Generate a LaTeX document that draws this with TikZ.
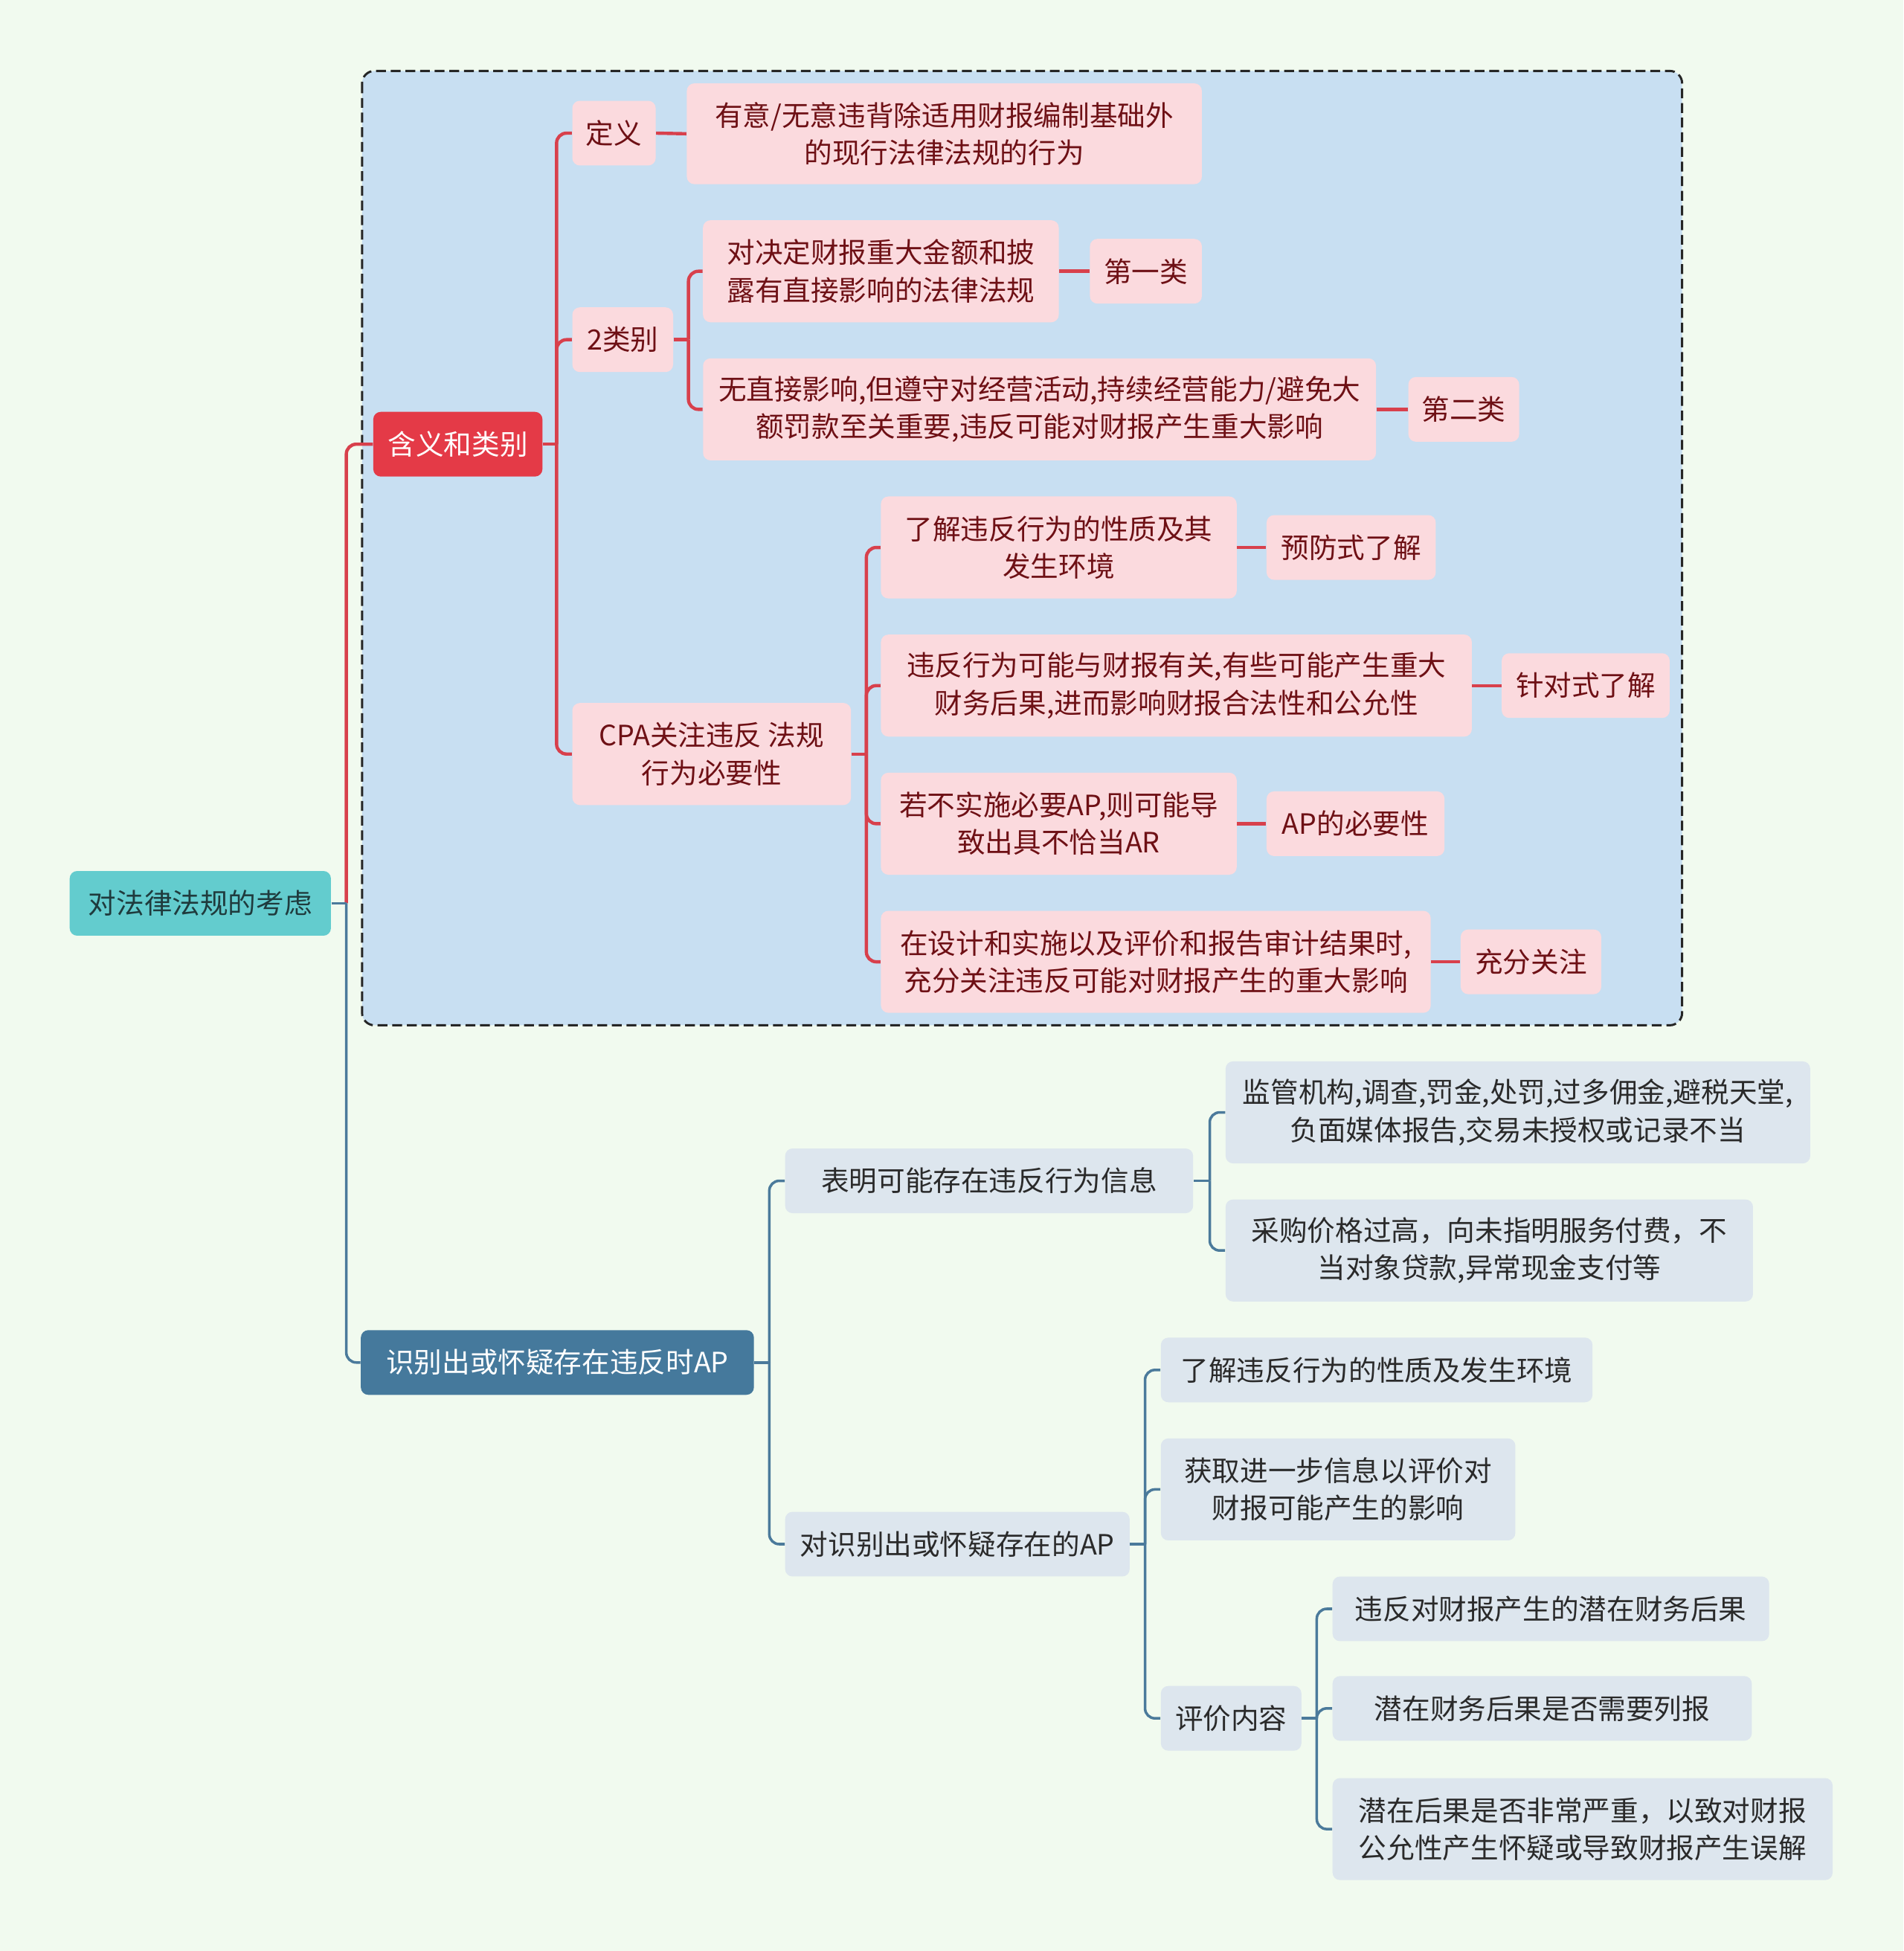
\documentclass[tikz,border=0pt]{standalone}
\usepackage{fontspec}
\setmainfont{Noto Sans CJK SC}
\usetikzlibrary{calc}
\definecolor{bgc}{HTML}{F1FAEF}
\definecolor{boxc}{HTML}{C8DFF2}
\definecolor{pinkc}{HTML}{FBDADE}
\definecolor{pinkt}{HTML}{6E1015}
\definecolor{redm}{HTML}{E43A47}
\definecolor{redl}{HTML}{D8404C}
\definecolor{tealc}{HTML}{63CCCE}
\definecolor{roott}{HTML}{1F3B3D}
\definecolor{bluem}{HTML}{45799C}
\definecolor{bluel}{HTML}{4B7A9B}
\definecolor{grayc}{HTML}{DDE6EE}
\definecolor{grayt}{HTML}{2A2A2A}
\tikzset{
  base/.style={rectangle, rounded corners=0.12cm, inner sep=0pt, align=center,
    font=\fontsize{12.8}{17.1}\selectfont},
  pk/.style={base, fill=pinkc, text=pinkt},
  redmain/.style={base, fill=redm, text=white},
  rootn/.style={base, fill=tealc, text=roott},
  bluemain/.style={base, fill=bluem, text=white},
  gr/.style={base, fill=grayc, text=grayt},
  rl/.style={draw=redl, line width=1.5pt, rounded corners=0.16cm},
  bl/.style={draw=bluel, line width=1.2pt, rounded corners=0.16cm},
}
\begin{document}
\begin{tikzpicture}[x=0.02cm,y=-0.02cm]
\fill[bgc] (0,0) rectangle (1530,1568);
\useasboundingbox (0,0) rectangle (1530,1568);
\draw[draw=black!85, line width=1pt, fill=boxc, rounded corners=0.2cm, dash pattern=on 4.5pt off 2.2pt] (291,57) rectangle (1352,824);

% level 0/1
\node[rootn, minimum width=4.2cm, minimum height=1.04cm] (root) at (161,726) {对法律法规的考虑};
\node[redmain, minimum width=2.72cm, minimum height=1.04cm] (han) at (368,357) {含义和类别};
\node[bluemain, minimum width=6.32cm, minimum height=1.04cm] (sb) at (448,1095) {识别出或怀疑存在违反时AP};

% red subtree
\node[pk, minimum width=1.34cm, minimum height=1.04cm] (dy) at (493.5,107) {定义};
\node[pk, minimum width=8.28cm, minimum height=1.62cm] (dyt) at (759,107.5) {有意/无意违背除适用财报编制基础外\\的现行法律法规的行为};
\node[pk, minimum width=1.62cm, minimum height=1.04cm] (lb) at (500.5,273) {2类别};
\node[pk, minimum width=5.72cm, minimum height=1.64cm] (c1) at (708,218) {对决定财报重大金额和披\\露有直接影响的法律法规};
\node[pk, minimum width=1.8cm, minimum height=1.04cm] (c1a) at (921,218) {第一类};
\node[pk, minimum width=10.82cm, minimum height=1.64cm] (c2) at (835.5,329) {无直接影响,但遵守对经营活动,持续经营能力/避免大\\额罚款至关重要,违反可能对财报产生重大影响};
\node[pk, minimum width=1.78cm, minimum height=1.04cm] (c2a) at (1176.5,329) {第二类};
\node[pk, minimum width=4.48cm, minimum height=1.64cm] (cpa) at (572,606) {CPA关注违反 法规\\行为必要性};
\node[pk, minimum width=5.72cm, minimum height=1.64cm] (n1) at (851,440) {了解违反行为的性质及其\\发生环境};
\node[pk, minimum width=2.72cm, minimum height=1.04cm] (n1a) at (1086,440) {预防式了解};
\node[pk, minimum width=9.5cm, minimum height=1.64cm] (n2) at (945.5,551) {违反行为可能与财报有关,有些可能产生重大\\财务后果,进而影响财报合法性和公允性};
\node[pk, minimum width=2.7cm, minimum height=1.04cm] (n2a) at (1274.5,551) {针对式了解};
\node[pk, minimum width=5.72cm, minimum height=1.64cm] (n3) at (851,662) {若不实施必要AP,则可能导\\致出具不恰当AR};
\node[pk, minimum width=2.86cm, minimum height=1.04cm] (n3a) at (1089.5,662) {AP的必要性};
\node[pk, minimum width=8.84cm, minimum height=1.64cm] (n4) at (929,773) {在设计和实施以及评价和报告审计结果时,\\充分关注违反可能对财报产生的重大影响};
\node[pk, minimum width=2.26cm, minimum height=1.04cm] (n4a) at (1230.5,773) {充分关注};

% blue subtree
\node[gr, minimum width=6.56cm, minimum height=1.04cm] (bm) at (795,949) {表明可能存在违反行为信息};
\node[gr, minimum width=9.4cm, minimum height=1.64cm] (bm1) at (1220,894) {监管机构,调查,罚金,处罚,过多佣金,避税天堂,\\负面媒体报告,交易未授权或记录不当};
\node[gr, minimum width=8.48cm, minimum height=1.64cm] (bm2) at (1197,1005) {采购价格过高，向未指明服务付费，不\\当对象贷款,异常现金支付等};
\node[gr, minimum width=5.54cm, minimum height=1.04cm] (dsb) at (769.5,1241) {对识别出或怀疑存在的AP};
\node[gr, minimum width=6.94cm, minimum height=1.04cm] (d1) at (1106.5,1101) {了解违反行为的性质及发生环境};
\node[gr, minimum width=5.7cm, minimum height=1.64cm] (d2) at (1075.5,1197) {获取进一步信息以评价对\\财报可能产生的影响};
\node[gr, minimum width=2.26cm, minimum height=1.04cm] (pj) at (989.5,1381) {评价内容};
\node[gr, minimum width=7.02cm, minimum height=1.04cm] (p1) at (1246.5,1293) {违反对财报产生的潜在财务后果};
\node[gr, minimum width=6.74cm, minimum height=1.04cm] (p2) at (1239.5,1373) {潜在财务后果是否需要列报};
\node[gr, minimum width=8.04cm, minimum height=1.64cm] (p3) at (1272,1470) {潜在后果是否非常严重，以致对财报\\公允性产生怀疑或导致财报产生误解};

% spine coordinates
\coordinate (s0) at ($(root.east)+(12,0)$);
\coordinate (s1) at ($(han.east)+(11,0)$);
\coordinate (s2) at ($(lb.east)+(12,0)$);
\coordinate (s3) at ($(cpa.east)+(12,0)$);
\coordinate (s4) at ($(sb.east)+(12,0)$);
\coordinate (s5) at ($(bm.east)+(13,0)$);
\coordinate (s6) at ($(dsb.east)+(12,0)$);
\coordinate (s7) at ($(pj.east)+(12,0)$);

% connectors root
\draw[rl] (s0) |- (han.west);
\draw[bl] (s0) |- (sb.west);
\draw[bl] (root.east) -- (s0);

% red connectors
\draw[rl] (han.east) -- (s1);
\draw[rl] (s1) |- (dy.west);
\draw[rl] (s1) |- (lb.west);
\draw[rl] (s1) |- (cpa.west);
\draw[rl] (dy.east) -- (dyt.west);
\draw[rl] (lb.east) -- (s2);
\draw[rl] (s2) |- (c1.west);
\draw[rl] (s2) |- (c2.west);
\draw[rl] (c1.east) -- (c1a.west);
\draw[rl] (c2.east) -- (c2a.west);
\draw[rl] (cpa.east) -- (s3);
\draw[rl] (s3) |- (n1.west);
\draw[rl] (s3) |- (n2.west);
\draw[rl] (s3) |- (n3.west);
\draw[rl] (s3) |- (n4.west);
\draw[rl] (n1.east) -- (n1a.west);
\draw[rl] (n2.east) -- (n2a.west);
\draw[rl] (n3.east) -- (n3a.west);
\draw[rl] (n4.east) -- (n4a.west);

% blue connectors
\draw[bl] (sb.east) -- (s4);
\draw[bl] (s4) |- (bm.west);
\draw[bl] (s4) |- (dsb.west);
\draw[bl] (bm.east) -- (s5);
\draw[bl] (s5) |- (bm1.west);
\draw[bl] (s5) |- (bm2.west);
\draw[bl] (dsb.east) -- (s6);
\draw[bl] (s6) |- (d1.west);
\draw[bl] (s6) |- (d2.west);
\draw[bl] (s6) |- (pj.west);
\draw[bl] (pj.east) -- (s7);
\draw[bl] (s7) |- (p1.west);
\draw[bl] (s7) |- (p2.west);
\draw[bl] (s7) |- (p3.west);
\end{tikzpicture}
\end{document}
